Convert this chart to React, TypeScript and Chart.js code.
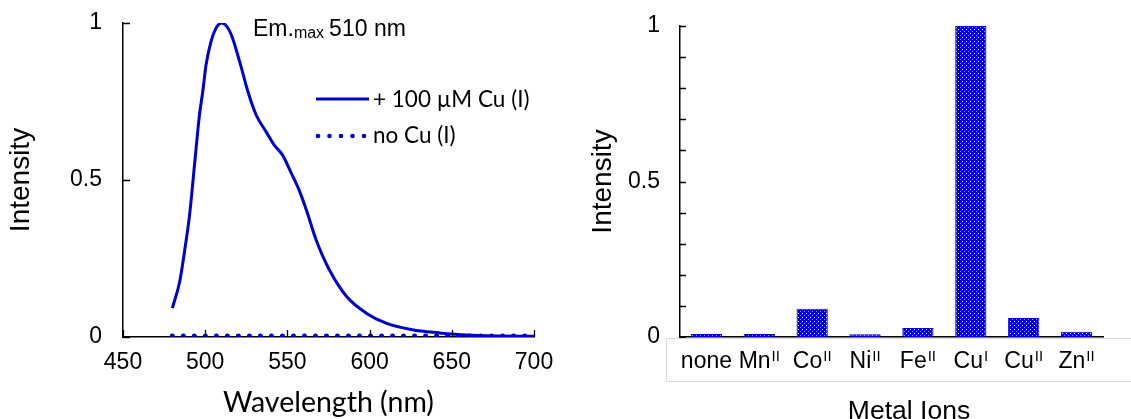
import React, { useEffect, useRef } from "react";
import { Chart, registerables } from "chart.js";
Chart.register(...registerables);

// ---------- data: emission spectrum ----------
const wavelengths = [480, 484.5, 488, 490.5, 493.5, 496.5, 498.5, 500.5, 503.5, 507, 510, 513, 516, 521, 526, 531, 537, 542, 547, 552, 557.5, 561.5, 567.5, 575.5, 586, 598, 610, 626, 642.5, 659, 680, 700];
const withCu = [0.092, 0.177, 0.293, 0.389, 0.548, 0.707, 0.781, 0.866, 0.94, 0.987, 1.0, 0.99, 0.961, 0.876, 0.781, 0.707, 0.654, 0.611, 0.58, 0.526, 0.463, 0.405, 0.309, 0.214, 0.129, 0.076, 0.044, 0.023, 0.013, 0.006, 0.003, 0.002];
const noCuWavelengths = [480, 520, 560, 600, 640, 680, 700];
const noCu = [0.003, 0.003, 0.003, 0.003, 0.003, 0.003, 0.003];
const spectrumLegend = ["+ 100 \u00b5M Cu (I)", "no Cu (I)"];
const emLabel = ["Em.", "max", "510 nm"];
const spectrumXTicks = [450, 500, 550, 600, 650, 700];
const intensityTicks = [0, 0.5, 1];

// ---------- data: metal ion selectivity ----------
const metals = ["none", "Mn", "Co", "Ni", "Fe", "Cu", "Cu", "Zn"];
const oxidation = ["", "II", "II", "II", "II", "I", "II", "II"];
const metalIntensity = [0.01, 0.01, 0.091, 0.009, 0.029, 1.0, 0.061, 0.017];

const BLUE = "#0000cc";
const ARIAL = "'Liberation Sans', Arial, sans-serif";
const CALIBRI = "Lato, 'Open Sans', sans-serif";

function makePattern(): CanvasPattern | string {
  const c = document.createElement("canvas");
  c.width = 4;
  c.height = 4;
  const g = c.getContext("2d");
  if (!g) return BLUE;
  g.fillStyle = BLUE;
  g.fillRect(0, 0, 4, 4);
  g.fillStyle = "#ffffff";
  g.fillRect(1, 1, 1, 1);
  g.fillStyle = "#9a9aff";
  g.fillRect(3, 3, 1, 1);
  return g.createPattern(c, "repeat") || BLUE;
}

function zeroPad(s: any) {
  s.paddingTop = 0;
  s.paddingBottom = 0;
  s.paddingLeft = 0;
  s.paddingRight = 0;
}

export default function App() {
  const leftRef = useRef<HTMLCanvasElement>(null);
  const rightRef = useRef<HTMLCanvasElement>(null);

  useEffect(() => {
    if (!leftRef.current || !rightRef.current) return;

    const innerTicksLeft = {
      id: "innerTicksLeft",
      afterDraw(chart: any) {
        const { ctx, chartArea } = chart;
        const xs = chart.scales.x;
        const ys = chart.scales.y;
        ctx.save();
        ctx.strokeStyle = "#000";
        ctx.lineWidth = 1.3;
        ctx.beginPath();
        ys.ticks.forEach((t: any) => {
          const y = Math.round(ys.getPixelForValue(t.value)) + 0.5;
          ctx.moveTo(chartArea.left, y);
          ctx.lineTo(chartArea.left + 7, y);
        });
        xs.ticks.forEach((t: any) => {
          const x = Math.round(xs.getPixelForValue(t.value)) + 0.5;
          ctx.moveTo(x, chartArea.bottom);
          ctx.lineTo(x, chartArea.bottom - 7);
        });
        ctx.stroke();

        // annotation
        ctx.fillStyle = "#000";
        ctx.textBaseline = "alphabetic";
        ctx.textAlign = "left";
        let x = 253;
        const base = 36;
        ctx.font = `23px ${ARIAL}`;
        ctx.fillText(emLabel[0], x, base);
        x += ctx.measureText(emLabel[0]).width;
        ctx.font = `16px ${ARIAL}`;
        ctx.fillText(emLabel[1], x, base + 2);
        x += ctx.measureText(emLabel[1]).width + 5;
        ctx.font = `23px ${ARIAL}`;
        ctx.fillText(emLabel[2], x, base);

        // legend
        ctx.strokeStyle = BLUE;
        ctx.lineWidth = 3;
        ctx.lineCap = "butt";
        ctx.beginPath();
        ctx.moveTo(316, 99);
        ctx.lineTo(369, 99);
        ctx.stroke();
        ctx.fillStyle = BLUE;
        for (let i = 0; i < 5; i++) {
          ctx.beginPath();
          ctx.arc(318 + i * 11.5, 136, 2.3, 0, Math.PI * 2);
          ctx.fill();
        }
        ctx.fillStyle = "#000";
        ctx.font = `22.5px ${CALIBRI}`;
        ctx.textBaseline = "middle";
        ctx.fillText(spectrumLegend[0], 373, 100);
        ctx.fillText(spectrumLegend[1], 373, 136);
        ctx.restore();
      },
    };

    const left = new Chart(leftRef.current, {
      type: "line",
      data: {
        datasets: [
          {
            label: spectrumLegend[0],
            data: wavelengths.map((w, i) => ({ x: w, y: withCu[i] })),
            borderColor: BLUE,
            borderWidth: 3,
            pointRadius: 0,
            cubicInterpolationMode: "monotone",
            fill: false,
          },
          {
            label: spectrumLegend[1],
            data: noCuWavelengths.map((w, i) => ({ x: w, y: noCu[i] })),
            borderColor: BLUE,
            borderWidth: 5,
            borderDash: [0.01, 11],
            borderCapStyle: "round",
            pointRadius: 0,
            fill: false,
          },
        ],
      },
      options: {
        responsive: false,
        animation: false,
        layout: { padding: { top: 23, right: 31, left: 0, bottom: 0 } },
        plugins: { legend: { display: false }, tooltip: { enabled: false } },
        scales: {
          x: {
            type: "linear",
            min: 450,
            max: 700,
            afterBuildTicks(s: any) {
              s.ticks = spectrumXTicks.map((v) => ({ value: v }));
            },
            afterFit(s: any) {
              s.height = 82;
              zeroPad(s);
            },
            grid: { display: false, drawTicks: false },
            border: { display: true, color: "#000", width: 1.5 },
            ticks: {
              color: "#000",
              padding: 12,
              maxRotation: 0,
              font: { family: ARIAL, size: 23 },
            },
            title: {
              display: true,
              text: "Wavelength (nm)",
              color: "#000",
              font: { family: CALIBRI, size: 28.5 },
              padding: { top: 0, bottom: -1 },
            },
          },
          y: {
            min: 0,
            max: 1,
            afterBuildTicks(s: any) {
              s.ticks = intensityTicks.map((v) => ({ value: v }));
            },
            afterFit(s: any) {
              s.width = 123;
              zeroPad(s);
            },
            grid: { display: false, drawTicks: false },
            border: { display: true, color: "#000", width: 1.5 },
            ticks: {
              color: "#000",
              padding: 21,
              font: { family: ARIAL, size: 23 },
              callback: (v: any) => String(v),
            },
            title: {
              display: true,
              text: "Intensity",
              color: "#000",
              font: { family: ARIAL, size: 28 },
              padding: { top: 4, bottom: 0 },
            },
          },
        },
      },
      plugins: [innerTicksLeft],
    } as any);

    const pattern = makePattern();

    const rightDecor = {
      id: "rightDecor",
      afterDraw(chart: any) {
        const { ctx, chartArea } = chart;
        const xs = chart.scales.x;
        const ys = chart.scales.y;
        ctx.save();
        // inner ticks on y
        ctx.strokeStyle = "#000";
        ctx.lineWidth = 1.3;
        ctx.beginPath();
        ys.ticks.forEach((t: any) => {
          const y = Math.round(ys.getPixelForValue(t.value)) + 0.5;
          ctx.moveTo(chartArea.left, y);
          ctx.lineTo(chartArea.left + 6, y);
        });
        ctx.stroke();
        // label box
        ctx.strokeStyle = "#d9d9d9";
        ctx.lineWidth = 1;
        ctx.beginPath();
        ctx.moveTo(chart.width, chartArea.bottom + 1.5);
        ctx.lineTo(101.5, chartArea.bottom + 1.5);
        ctx.lineTo(101.5, 381.5);
        ctx.lineTo(chart.width, 381.5);
        ctx.stroke();
        // category labels with superscripts
        ctx.fillStyle = "#000";
        ctx.textBaseline = "alphabetic";
        ctx.textAlign = "left";
        metals.forEach((m, i) => {
          const cx = xs.getPixelForValue(i);
          ctx.font = `23px ${ARIAL}`;
          const w1 = ctx.measureText(m).width;
          ctx.font = `15px ${ARIAL}`;
          const w2 = oxidation[i] ? ctx.measureText(oxidation[i]).width + 1 : 0;
          const start = cx - (w1 + w2) / 2;
          ctx.font = `23px ${ARIAL}`;
          ctx.fillText(m, start, 368);
          if (oxidation[i]) {
            ctx.font = `15px ${ARIAL}`;
            ctx.fillText(oxidation[i], start + w1 + 1, 361);
          }
        });
        // axis title
        ctx.font = `26.5px ${ARIAL}`;
        ctx.textAlign = "center";
        ctx.fillText("Metal Ions", 344, 419);
        ctx.restore();
      },
    };

    const right = new Chart(rightRef.current, {
      type: "bar",
      data: {
        labels: metals.map((m, i) => m + oxidation[i]),
        datasets: [
          {
            label: "Intensity",
            data: metalIntensity,
            backgroundColor: pattern as any,
            borderColor: BLUE,
            borderWidth: 1,
            categoryPercentage: 1,
            barPercentage: 0.59,
          },
        ],
      },
      options: {
        responsive: false,
        animation: false,
        layout: { padding: { top: 26, right: 28, left: 0, bottom: 0 } },
        plugins: { legend: { display: false }, tooltip: { enabled: false } },
        scales: {
          x: {
            afterFit(s: any) {
              s.height = 82;
              zeroPad(s);
            },
            grid: { display: false, drawTicks: false },
            border: { display: true, color: "#000", width: 1.5 },
            ticks: { display: false },
          },
          y: {
            min: 0,
            max: 1,
            afterBuildTicks(s: any) {
              const t = [];
              for (let i = 0; i <= 10; i++) t.push({ value: i / 10 });
              s.ticks = t;
            },
            afterFit(s: any) {
              s.width = 115;
              zeroPad(s);
            },
            grid: { display: false, drawTicks: false },
            border: { display: true, color: "#000", width: 1.5 },
            ticks: {
              color: "#000",
              padding: 20,
              autoSkip: false,
              font: { family: ARIAL, size: 23 },
              callback: (v: any) => (intensityTicks.some((k) => Math.abs(k - v) < 1e-9) ? String(Math.round(v * 10) / 10) : ""),
            },
            title: {
              display: true,
              text: "Intensity",
              color: "#000",
              font: { family: ARIAL, size: 28 },
              padding: { top: 21, bottom: 0 },
            },
          },
        },
      },
      plugins: [rightDecor],
    } as any);

    return () => {
      left.destroy();
      right.destroy();
    };
  }, []);

  return (
    <div style={{ position: "absolute", left: 0, top: 0, width: 1131, height: 419, background: "#fff" }}>
      <canvas ref={leftRef} width={565} height={419} style={{ position: "absolute", left: 0, top: 0 }} />
      <canvas ref={rightRef} width={566} height={419} style={{ position: "absolute", left: 565, top: 0 }} />
    </div>
  );
}
